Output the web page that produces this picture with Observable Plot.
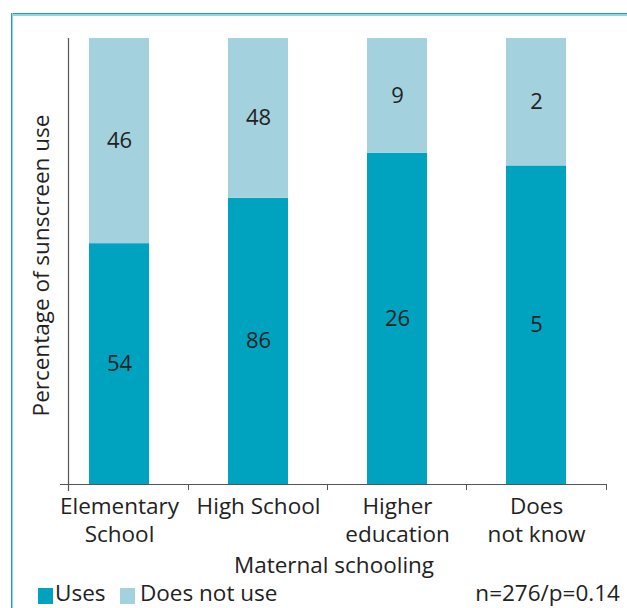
<!DOCTYPE html>
<html><head><meta charset="utf-8">
<script src="https://cdn.jsdelivr.net/npm/d3@7"></script>
<script src="https://cdn.jsdelivr.net/npm/@observablehq/plot@0.6"></script>
<style>
body{margin:0;background:#fff;font-family:"Open Sans",sans-serif;color:#222;}
#wrap{position:relative;width:627px;height:608px;overflow:hidden;}
#chart{position:absolute;left:0;top:0;}
.ftop{position:absolute;left:11px;top:13px;width:620px;height:1px;background:#2a9cae;border-bottom:2px solid #8dd7e3;}
.fleft{position:absolute;left:11px;top:13px;width:1px;height:600px;background:#2a9cae;border-right:1px solid #8dd7e3;}
#legend{position:absolute;left:0;top:580px;width:627px;height:28px;font-size:22.5px;line-height:28px;}
.sw{position:absolute;top:8px;width:15px;height:16px;}
.lt{position:absolute;top:-1px;white-space:nowrap;}
</style></head>
<body>
<div id="wrap">
  <div id="chart"></div>
  <div class="ftop"></div><div class="fleft"></div>
  <div id="legend"></div>
</div>
<script>
const categories = ["Elementary School", "High School", "Higher education", "Does not know"];
const tickLabels = ["Elementary\nSchool", "High School", "Higher\neducation", "Does\nnot know"];
const series = ["Uses", "Does not use"];
const uses = [54, 86, 26, 5];
const doesNotUse = [46, 48, 9, 2];
const colors = ["#00a3bf", "#a3d1de"];
const xTitle = "Maternal schooling";
const yTitle = "Percentage of sunscreen use";
const note = "n=276/p=0.14";

const rows = [];
categories.forEach((c, i) => {
  rows.push({cat: c, series: series[0], n: uses[i]});
  rows.push({cat: c, series: series[1], n: doesNotUse[i]});
});

const stack = (o) => Plot.stackY({offset: "normalize", x: "cat", y: "n", z: "series", ...o});

const chart = Plot.plot({
  width: 627,
  height: 580,
  marginTop: 38,
  marginBottom: 96,
  marginLeft: 48,
  marginRight: 20,
  style: {fontFamily: "Open Sans, sans-serif", color: "#222", background: "transparent"},
  x: {domain: categories, paddingInner: 0.571, paddingOuter: 0.2857, axis: null},
  y: {domain: [0, 1], axis: null},
  color: {domain: series, range: colors},
  marks: [
    Plot.barY(rows, stack({fill: "series"})),
    Plot.text(rows, stack({text: "n", fontSize: 22, fill: "#222"})),
    Plot.ruleY([0], {stroke: "#555", strokeWidth: 1.2, insetLeft: 12}),
    Plot.frame({anchor: "left", dx: 20, stroke: "#555", strokeWidth: 1.2, insetBottom: -6}),
    Plot.axisX({ticks: categories.slice(1), tickSize: 6, dx: -70, tickFormat: () => "", stroke: "#555", label: null}),
    Plot.axisX({ticks: categories.slice(3), tickSize: 6, dx: 70, tickFormat: () => "", stroke: "#555", label: null}),
    Plot.axisX({tickSize: 0, tickPadding: 10, fontSize: 22.5, lineHeight: 1.24, fill: "#222",
      tickFormat: d => tickLabels[categories.indexOf(d)], label: null}),
    Plot.text([xTitle], {frameAnchor: "bottom", lineAnchor: "middle", dy: 81, dx: 6, fontSize: 22.5, fill: "#222"}),
    Plot.text([yTitle], {frameAnchor: "left", textAnchor: "middle", lineAnchor: "middle", rotate: -90, dx: -7, dy: 4, fontSize: 22.5, fill: "#222"})
  ]
});
document.getElementById("chart").appendChild(chart);

const lg = document.getElementById("legend");
lg.innerHTML = `
  <div class="sw" style="left:38px;background:${colors[0]}"></div>
  <div class="lt" style="left:55px">${series[0]}</div>
  <div class="sw" style="left:120px;background:${colors[1]}"></div>
  <div class="lt" style="left:140px">${series[1]}</div>
  <div class="lt" style="right:7px">${note}</div>`;
</script>
</body></html>
